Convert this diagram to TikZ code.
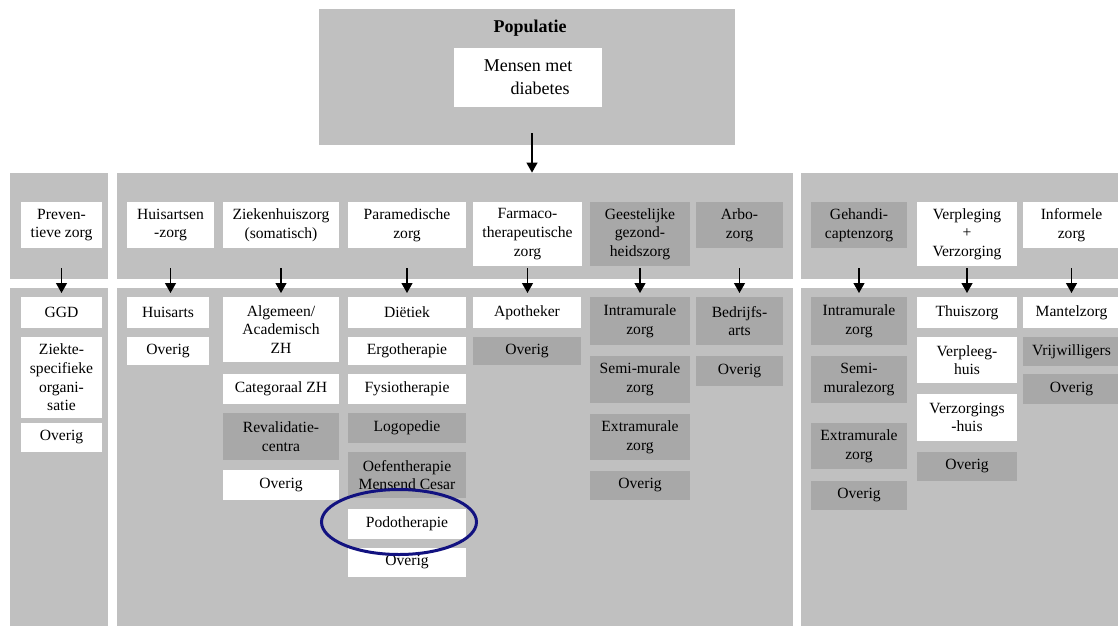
\documentclass[tikz,border=0pt]{standalone}
\usepackage{fontspec}
\setmainfont{Liberation Serif}
\usepackage{color}
\usepackage{tikz}
\usetikzlibrary{arrows.meta}
\definecolor{panel}{RGB}{192,192,192}
\definecolor{darkbox}{RGB}{168,168,168}
\definecolor{ringblue}{RGB}{18,18,128}

\begin{document}
\begin{tikzpicture}[x=0.5pt, y=-0.5pt,
  panelbox/.style={fill=panel, inner sep=0pt},
  txt/.style={font=\fontsize{7.8}{9.3}\selectfont, align=center, inner sep=0pt},
  wbox/.style={txt, fill=white},
  gbox/.style={txt, fill=darkbox},
  arr/.style={line width=0.6pt, -{Triangle[length=5pt,width=5.5pt]}}]
\useasboundingbox (0,0) rectangle (1118,627);
%%------------ panels
\node[panelbox, minimum width=208pt, minimum height=68pt] (popBox) at (527,77) {};
\node[panelbox, minimum width=49pt, minimum height=53pt] (leftU) at (59,226) {};
\node[panelbox, minimum width=338pt, minimum height=53pt] (midU) at (455,226) {};
\node[panelbox, minimum width=159.5pt, minimum height=53pt] (rightU) at (960.5,226) {};
\node[panelbox, minimum width=49pt, minimum height=169pt] (leftL) at (59,457) {};
\node[panelbox, minimum width=338pt, minimum height=169pt] (midL) at (455,457) {};
\node[panelbox, minimum width=159.5pt, minimum height=169pt] (rightL) at (960.5,457) {};
%%------------ population
\node[font=\fontsize{9}{11}\selectfont\bfseries] (popTitle) at (530,28) {Populatie};
\node[wbox, font=\fontsize{9}{11.5}\selectfont, minimum width=74pt, minimum height=29.5pt] (mensen) at (528,77.5) {Mensen met\\\hspace*{12pt}diabetes};
\coordinate (popArr) at (532,133);
\draw[arr] (popArr) -- (popArr |- midU.north);
%%------------ header row
\node[wbox, minimum width=40.5pt, minimum height=23pt] (prevH) at (61.5,225) {Preven-\\tieve zorg};
\node[wbox, minimum width=43.5pt, minimum height=23pt] (huisH) at (170.5,225) {Huisartsen\\-zorg};
\node[wbox, minimum width=58pt, minimum height=23pt] (ziekH) at (281,225) {Ziekenhuiszorg\\(somatisch)};
\node[wbox, minimum width=59pt, minimum height=23pt] (paraH) at (407,225) {Paramedische\\zorg};
\node[wbox, minimum width=54.5pt, minimum height=32pt] (farmH) at (527.5,234) {Farmaco-\\therapeutische\\zorg};
\node[gbox, minimum width=50pt, minimum height=32pt] (geestH) at (640,234) {Geestelijke\\gezond-\\heidszorg};
\node[gbox, minimum width=43.5pt, minimum height=23pt] (arboH) at (739.5,225) {Arbo-\\zorg};
\node[gbox, minimum width=48pt, minimum height=23pt] (gehH) at (859,225) {Gehandi-\\captenzorg};
\node[wbox, minimum width=50pt, minimum height=32pt] (verplH) at (967,234) {Verpleging\\+\\Verzorging};
\node[wbox, minimum width=48.5pt, minimum height=23pt] (infH) at (1071.5,225) {Informele\\zorg};
%%------------ arrows down
\coordinate (arrS) at (0,268);
\coordinate (arrE) at (0,293);
\draw[arr] (prevH |- arrS) -- (prevH |- arrE);
\draw[arr] (huisH |- arrS) -- (huisH |- arrE);
\draw[arr] (ziekH |- arrS) -- (ziekH |- arrE);
\draw[arr] (paraH |- arrS) -- (paraH |- arrE);
\draw[arr] (farmH |- arrS) -- (farmH |- arrE);
\draw[arr] (geestH |- arrS) -- (geestH |- arrE);
\draw[arr] (arboH |- arrS) -- (arboH |- arrE);
\draw[arr] (gehH |- arrS) -- (gehH |- arrE);
\draw[arr] (verplH |- arrS) -- (verplH |- arrE);
\draw[arr] (infH |- arrS) -- (infH |- arrE);
%%------------ preventie
\node[wbox, minimum width=40.5pt, minimum height=15.5pt] (ggd) at (61.5,312.5) {GGD};
\node[wbox, minimum width=40.5pt, minimum height=40.5pt] (ziekte) at (61.5,377.5) {Ziekte-\\specifieke\\organi-\\satie};
\node[wbox, minimum width=40.5pt, minimum height=14.5pt] (ovPrev) at (61.5,437.5) {Overig};
%%------------ huisarts
\node[wbox, minimum width=41pt, minimum height=15.5pt] (huisarts) at (168,312.5) {Huisarts};
\node[wbox, minimum width=41pt, minimum height=14pt] (ovHuis) at (168,351) {Overig};
%%------------ ziekenhuis
\node[wbox, minimum width=58pt, minimum height=32.5pt] (algZH) at (281,329.5) {Algemeen/\\Academisch\\ZH};
\node[wbox, minimum width=58pt, minimum height=15pt] (catZH) at (281,389) {Categoraal ZH};
\node[gbox, minimum width=58pt, minimum height=23.5pt] (reval) at (281,436.5) {Revalidatie-\\centra};
\node[wbox, minimum width=58pt, minimum height=15pt] (ovZiek) at (281,485) {Overig};
%%------------ paramedisch
\node[wbox, minimum width=59pt, minimum height=15.5pt] (diet) at (407,312.5) {Di\"etiek};
\node[wbox, minimum width=59pt, minimum height=14pt] (ergo) at (407,351) {Ergotherapie};
\node[wbox, minimum width=59pt, minimum height=15pt] (fysio) at (407,389) {Fysiotherapie};
\node[gbox, minimum width=59pt, minimum height=15pt] (logo) at (407,428) {Logopedie};
\node[gbox, minimum width=59pt, minimum height=23pt] (oefen) at (407,475) {Oefentherapie\\Mensend Cesar};
\node[wbox, minimum width=59pt, minimum height=15pt] (podo) at (407,524) {Podotherapie};
\node[wbox, minimum width=59pt, minimum height=14.5pt] (ovPara) at (407,562.5) {Overig};
%%------------ farmacie
\node[wbox, minimum width=54pt, minimum height=15.5pt] (apoth) at (527,312.5) {Apotheker};
\node[gbox, minimum width=54pt, minimum height=14pt] (ovFarm) at (527,351) {Overig};
%%------------ ggz
\node[gbox, minimum width=50pt, minimum height=24pt] (intraG) at (640,321) {Intramurale\\zorg};
\node[gbox, minimum width=50pt, minimum height=23.5pt] (semiG) at (640,379.5) {Semi-murale\\zorg};
\node[gbox, minimum width=50pt, minimum height=23pt] (extraG) at (640,437) {Extramurale\\zorg};
\node[gbox, minimum width=50pt, minimum height=14.5pt] (ovGeest) at (640,485.5) {Overig};
%%------------ arbo
\node[gbox, minimum width=43.5pt, minimum height=24pt] (bedr) at (739.5,321) {Bedrijfs-\\arts};
\node[gbox, minimum width=43.5pt, minimum height=15pt] (ovArbo) at (739.5,371) {Overig};
%%------------ gehandicapten
\node[gbox, minimum width=48pt, minimum height=24pt] (intraH) at (859,321) {Intramurale\\zorg};
\node[gbox, minimum width=48pt, minimum height=23.5pt] (semiH) at (859,379.5) {Semi-\\muralezorg};
\node[gbox, minimum width=48pt, minimum height=23pt] (extraH) at (859,446) {Extramurale\\zorg};
\node[gbox, minimum width=48pt, minimum height=14.5pt] (ovGeh) at (859,495.5) {Overig};
%%------------ verpleging
\node[wbox, minimum width=50pt, minimum height=15.5pt] (thuis) at (967,312.5) {Thuiszorg};
\node[wbox, minimum width=50pt, minimum height=23pt] (verpleeg) at (967,360) {Verpleeg-\\huis};
\node[wbox, minimum width=50pt, minimum height=23.5pt] (verzorg) at (967,417.5) {Verzorgings\\-huis};
\node[gbox, minimum width=50pt, minimum height=14.5pt] (ovVerpl) at (967,466.5) {Overig};
%%------------ informeel
\node[wbox, minimum width=48.5pt, minimum height=15.5pt] (mantel) at (1071.5,312.5) {Mantelzorg};
\node[gbox, minimum width=48.5pt, minimum height=14.5pt] (vrijw) at (1071.5,351.5) {Vrijwilligers};
\node[gbox, minimum width=48.5pt, minimum height=15pt] (ovInf) at (1071.5,389) {Overig};
%%------------ ring
\draw[ringblue, line width=1.5pt] (399,522) ellipse [x radius=38.75pt, y radius=16.25pt];
\end{tikzpicture}
\end{document}
